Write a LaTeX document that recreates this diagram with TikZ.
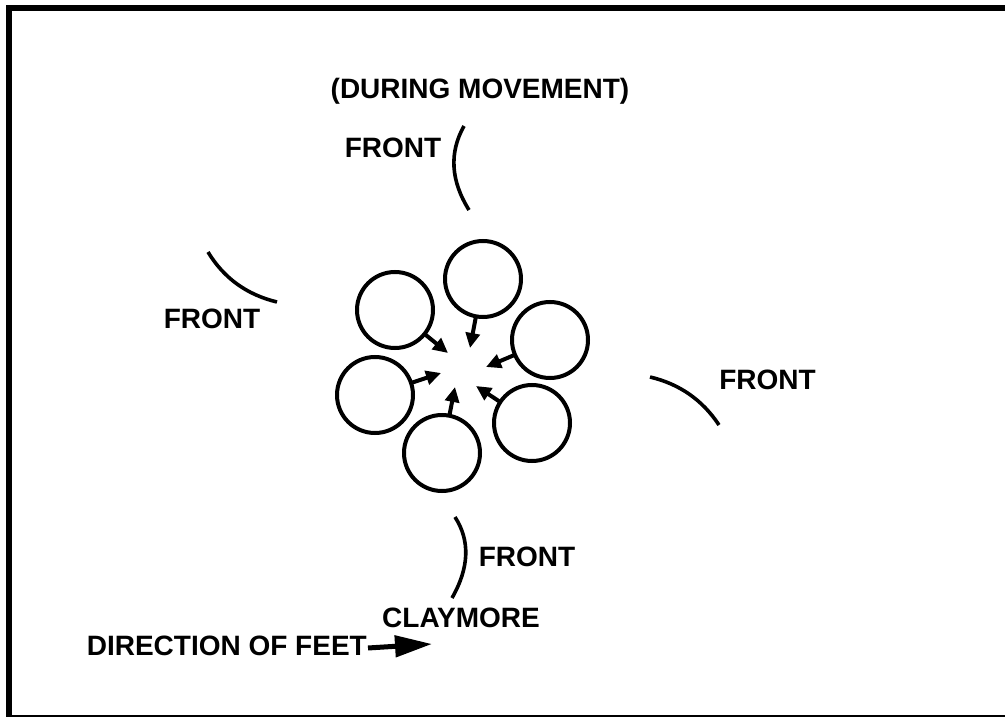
\documentclass[tikz,border=0pt]{standalone}
\usepackage{fontspec}
\setmainfont{Liberation Sans}
\usetikzlibrary{arrows.meta}
\begin{document}
\begin{tikzpicture}[x=1pt,y=-1pt,
  lbl/.style={font=\fontsize{28}{32}\selectfont\bfseries, inner sep=0pt},
  person/.style={circle, draw, line width=4pt, minimum size=76pt, inner sep=0pt},
  face/.style={line width=4pt, -{Triangle[length=15pt,width=14pt]}, shorten <=-1pt},
  frontarc/.style={line width=3.6pt},
  frame/.style={line width=6pt}]
\useasboundingbox (0,0) rectangle (1005,717);
% frame
\draw[frame] (9,717) -- (9,8) -- (1005,8);
\draw[line width=2pt] (6,716) -- (1005,716);
% people
\node[person] (p1) at (483,279) {};
\node[person] (p2) at (395,310) {};
\node[person] (p3) at (550,340) {};
\node[person] (p4) at (375,395) {};
\node[person] (p5) at (532,423) {};
\node[person] (p6) at (442,453) {};
\coordinate (t1) at (470,348);
\coordinate (t2) at (448,353);
\coordinate (t3) at (486,367);
\coordinate (t4) at (441,373);
\coordinate (t5) at (476,386);
\coordinate (t6) at (455,387);
\foreach \i in {1,...,6} \draw[face] (p\i) -- (t\i);
% front arcs
\coordinate (a1s) at (464,126); \coordinate (a1e) at (469,210);
\draw[frontarc] (a1s) .. controls (449,152.7) and (450.7,180.7) .. (a1e);
\coordinate (a2s) at (208,252); \coordinate (a2e) at (277,302);
\draw[frontarc] (a2s) .. controls (223.7,278) and (246.7,294.7) .. (a2e);
\coordinate (a3s) at (650,377); \coordinate (a3e) at (719,425);
\draw[frontarc] (a3s) .. controls (679.4,383.9) and (702.4,399.9) .. (a3e);
\coordinate (a4s) at (455,517); \coordinate (a4e) at (452,598);
\draw[frontarc] (a4s) .. controls (470.3,540.7) and (469.3,567.7) .. (a4e);
% labels
\node[lbl] (title) at (480,91) {(DURING MOVEMENT)};
\node[lbl] (f1) at (393,148) {FRONT};
\node[lbl] (f2) at (212,319) {FRONT};
\node[lbl] (f3) at (767.5,380) {FRONT};
\node[lbl] (f4) at (527,557) {FRONT};
\node[lbl] (clay) at (461,617.5) {CLAYMORE};
\node[lbl, anchor=east] (dir) at (367,646) {DIRECTION OF FEET};
\coordinate (feet) at (432,644);
\draw[line width=5pt, -{Triangle[length=37pt,width=21pt]}] (dir.east) ++(1pt,-2pt) coordinate (fs) (fs) -- (feet);
\end{tikzpicture}
\end{document}
